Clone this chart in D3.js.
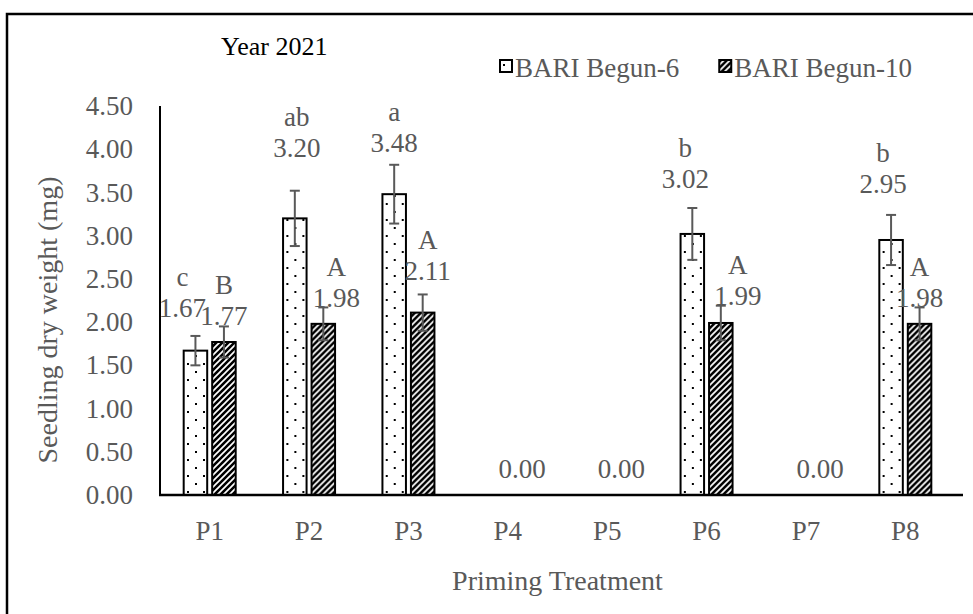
<!DOCTYPE html>
<html>
<head>
<meta charset="utf-8">
<script src="https://cdn.jsdelivr.net/npm/d3@7"></script>
<style>
  html, body { margin: 0; padding: 0; background: #fff; }
  svg { display: block; }
  text { font-family: "Liberation Serif", "Times New Roman", serif; }
</style>
</head>
<body>
<svg id="chart" width="973" height="614"></svg>
<script>
// ---- data ----
const treatments = ["P1", "P2", "P3", "P4", "P5", "P6", "P7", "P8"];
const seriesNames = ["BARI Begun-6", "BARI Begun-10"];
const begun6 = [1.67, 3.20, 3.48, null, null, 3.02, null, 2.95];
const begun10 = [1.77, 1.98, 2.11, 0.00, 0.00, 1.99, 0.00, 1.98];
const begun6Err = [0.17, 0.32, 0.34, null, null, 0.30, null, 0.29];
const begun10Err = [0.18, 0.19, 0.21, null, null, 0.20, null, 0.19];
const begun6Letters = ["c", "ab", "a", "", "", "b", "", "b"];
const begun10Letters = ["B", "A", "A", "", "", "A", "", "A"];
const yTicks = [0, 0.5, 1, 1.5, 2, 2.5, 3, 3.5, 4, 4.5];
const yearLabel = "Year 2021";
const xTitle = "Priming Treatment";
const yTitle = "Seedling dry weight (mg)";

// ---- layout ----
const W = 973, H = 614;
const plot = { left: 160, right: 955, top: 106, bottom: 495 };
const grey = "#595959";
const fontSize = 27;

// hand-placed value label offsets (px): dx from bar centre, dy from bar top
const nudge6 = [[-13, -34], [2, -61], [0, -42], null, null, [-7, -46], null, [-8, -47]];
const nudge10 = [[0, -17], [13, -17], [5, -33], [0, -17], [0, -17], [17, -18], [0, -17], [0, -17]];
const letterGap = 31;

const svg = d3.select("#chart");

// patterns
const defs = svg.append("defs");
const dots = defs.append("pattern")
  .attr("id", "dots").attr("patternUnits", "userSpaceOnUse")
  .attr("width", 16).attr("height", 16);
dots.append("rect").attr("width", 16).attr("height", 16).attr("fill", "#fff");
dots.append("rect").attr("x", 3).attr("y", 3).attr("width", 2).attr("height", 2).attr("fill", "#000");
dots.append("rect").attr("x", 11).attr("y", 11).attr("width", 2).attr("height", 2).attr("fill", "#000");

const hatch = defs.append("pattern")
  .attr("id", "hatch").attr("patternUnits", "userSpaceOnUse")
  .attr("width", 6).attr("height", 6);
hatch.append("rect").attr("width", 6).attr("height", 6).attr("fill", "#000");
hatch.append("path").attr("d", "M-1,1 L1,-1 M0,6 L6,0 M5,7 L7,5")
  .attr("stroke", "#fff").attr("stroke-width", 1.7);

const fills = ["url(#dots)", "url(#hatch)"];

// outer frame
svg.append("rect")
  .attr("x", 7).attr("y", 14).attr("width", 990).attr("height", 640)
  .attr("fill", "none").attr("stroke", "#000").attr("stroke-width", 2.5);

// scales
const x0 = d3.scaleBand().domain(treatments).range([plot.left, plot.right]).padding(0);
const x1 = d3.scaleBand().domain(seriesNames)
  .range([x0.bandwidth() / 2 - 26, x0.bandwidth() / 2 + 26])
  .paddingInner(0.175).paddingOuter(0);
const y = d3.scaleLinear().domain([0, 4.5]).range([plot.bottom, plot.top]);

// y axis labels
const yAxis = d3.axisLeft(y).tickValues(yTicks).tickFormat(d3.format(".2f")).tickSize(0).tickPadding(27);
const gy = svg.append("g").attr("transform", `translate(${plot.left},0)`).call(yAxis);
gy.select(".domain").remove();
gy.selectAll("text").attr("fill", grey).style("font-size", fontSize + "px")
  .style("font-family", '"Liberation Serif", "Times New Roman", serif');

// x axis labels
const xAxis = d3.axisBottom(x0).tickSize(0).tickPadding(26);
const gx = svg.append("g").attr("transform", `translate(0,${plot.bottom})`).call(xAxis);
gx.select(".domain").remove();
gx.selectAll("text").attr("fill", grey).style("font-size", fontSize + "px")
  .style("font-family", '"Liberation Serif", "Times New Roman", serif');

// bars
const rows = treatments.map((t, i) => ({
  t, i,
  vals: [
    { s: seriesNames[0], k: 0, v: begun6[i], e: begun6Err[i], L: begun6Letters[i], n: nudge6[i] },
    { s: seriesNames[1], k: 1, v: begun10[i], e: begun10Err[i], L: begun10Letters[i], n: nudge10[i] }
  ]
}));

const groups = svg.append("g").selectAll("g").data(rows).join("g")
  .attr("transform", d => `translate(${x0(d.t)},0)`);

groups.selectAll("rect").data(d => d.vals.filter(v => v.v !== null)).join("rect")
  .attr("x", d => x1(d.s))
  .attr("width", x1.bandwidth())
  .attr("y", d => y(d.v))
  .attr("height", d => y(0) - y(d.v))
  .attr("fill", d => fills[d.k])
  .attr("stroke", "#000").attr("stroke-width", 2);

// axis lines
svg.append("line").attr("x1", plot.left).attr("x2", plot.left)
  .attr("y1", plot.top).attr("y2", plot.bottom).attr("stroke", "#000").attr("stroke-width", 2);
svg.append("line").attr("x1", plot.left - 1).attr("x2", plot.right + 8)
  .attr("y1", plot.bottom).attr("y2", plot.bottom).attr("stroke", "#000").attr("stroke-width", 2.5);

// value labels and letters
const labelled = groups.selectAll("g.lab").data(d => d.vals.filter(v => v.v !== null)).join("g")
  .attr("class", "lab")
  .attr("transform", d => `translate(${x1(d.s) + x1.bandwidth() / 2 + d.n[0]},${y(d.v) + d.n[1]})`);
labelled.append("text").attr("text-anchor", "middle")
  .attr("fill", grey).style("font-size", fontSize + "px")
  .text(d => d3.format(".2f")(d.v));
labelled.append("text").attr("text-anchor", "middle").attr("y", -letterGap)
  .attr("fill", grey).style("font-size", fontSize + "px")
  .text(d => d.L);

// error bars
const eb = groups.selectAll("g.err").data(d => d.vals.filter(v => v.e !== null)).join("g")
  .attr("class", "err")
  .attr("transform", d => `translate(${x1(d.s) + x1.bandwidth() / 2},0)`)
  .attr("stroke", grey).attr("stroke-width", 2);
eb.append("line").attr("y1", d => y(d.v - d.e)).attr("y2", d => y(d.v + d.e));
eb.append("line").attr("x1", -5).attr("x2", 5).attr("y1", d => y(d.v + d.e)).attr("y2", d => y(d.v + d.e));
eb.append("line").attr("x1", -5).attr("x2", 5).attr("y1", d => y(d.v - d.e)).attr("y2", d => y(d.v - d.e));

// axis titles
svg.append("text").attr("x", (plot.left + plot.right) / 2).attr("y", 590)
  .attr("text-anchor", "middle").attr("fill", grey).style("font-size", "28px").text(xTitle);
svg.append("text").attr("transform", "translate(57,320) rotate(-90)")
  .attr("text-anchor", "middle").attr("fill", grey).style("font-size", "28px").text(yTitle);

// year caption
svg.append("text").attr("x", 221).attr("y", 55).attr("fill", "#000")
  .style("font-size", "26px").text(yearLabel);

// legend
const legend = svg.append("g").attr("transform", "translate(500,77)");
let lx = 0;
seriesNames.forEach((name, k) => {
  const g = legend.append("g").attr("transform", `translate(${lx},0)`);
  g.append("rect").attr("x", 0).attr("y", -17).attr("width", 12).attr("height", 12)
    .attr("fill", fills[k]).attr("stroke", "#000").attr("stroke-width", 2);
  const t = g.append("text").attr("x", 15).attr("y", 0).attr("fill", grey)
    .style("font-size", "27px").text(name);
  lx += 15 + t.node().getComputedTextLength() + 40;
});
</script>
</body>
</html>
